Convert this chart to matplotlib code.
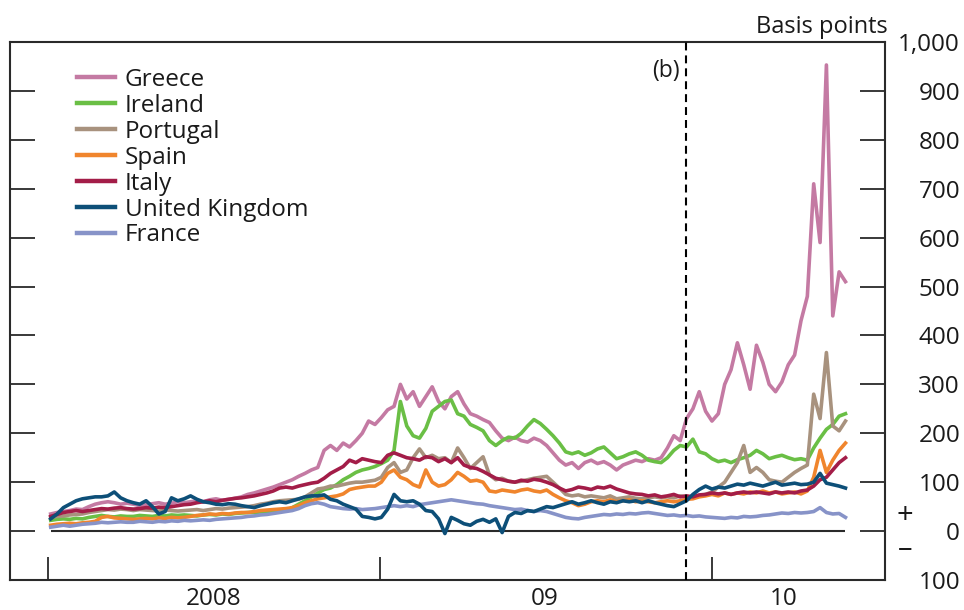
import matplotlib
matplotlib.use("Agg")
import matplotlib.pyplot as plt
import matplotlib.ticker as mticker
import pandas as pd

plt.rcParams['font.family'] = ['Open Sans', 'DejaVu Sans']
plt.rcParams['font.weight'] = 500

# Weekly observations, spreads in basis points
weeks = pd.date_range('2008-01-04', periods=126, freq='7D')

greece = [35, 38, 40, 42, 45, 44,
          50, 55, 58, 60, 58, 55, 57,
          55, 52, 54, 56, 58, 55, 57, 60,
          58, 60, 62, 60, 64, 66, 63, 65, 67, 70,
          75, 78, 82, 86, 90, 95, 100, 105, 112, 118, 125, 130,
          165, 175, 165, 180, 172, 185, 200, 225, 218, 232, 248, 255,
          300, 270, 285, 255, 275, 295, 265, 250, 275, 285, 260, 240,
          235, 228, 222, 205, 190, 185, 192, 185, 182, 190, 185, 175,
          160, 145, 135, 140, 128, 140, 145, 138, 142, 135, 125, 135,
          140, 145, 142, 148, 145, 150, 170, 195, 185, 230, 250, 285,
          245, 225, 240, 300, 330, 385, 340, 290, 380, 345, 300, 285,
          305, 340, 360, 430, 480, 710, 590, 953, 440, 530, 510]

ireland = [22, 24, 25, 24, 26, 25,
           28, 30, 32, 30, 29, 31, 30,
           30, 32, 31, 30, 32, 31, 33, 32,
           33, 32, 31, 33, 34, 33, 35, 34, 36, 37,
           38, 38, 39, 40, 38, 40, 42, 48, 55, 62, 70, 78,
           85, 88, 95, 105, 112, 120, 125, 128, 132, 138, 145, 165,
           265, 215, 195, 190, 210, 245, 255, 265, 268, 240, 235, 218,
           212, 205, 185, 175, 185, 192, 190, 200, 215, 228, 220, 208,
           195, 180, 162, 158, 162, 155, 160, 168, 172, 160, 148, 152,
           158, 162, 155, 145, 142, 140, 150, 165, 175, 172, 188, 162,
           158, 148, 142, 145, 140, 146, 150, 155, 165, 158, 148, 152,
           155, 150, 146, 148, 145, 170, 190, 208, 218, 235, 240]

portugal = [28, 30, 31, 33, 34, 35,
            38, 40, 42, 44, 43, 45, 44,
            42, 44, 43, 42, 41, 43, 42, 41,
            42, 43, 44, 42, 44, 46, 45, 47, 48, 49,
            50, 52, 55, 57, 60, 62, 63, 64, 65, 70, 78, 86,
            88, 92, 92, 95, 98, 100, 100, 102, 104, 110, 130, 140,
            120, 125, 150, 168, 150, 155, 148, 150, 140, 170, 150, 128,
            140, 152, 115, 105, 108, 102, 100, 102, 105, 108, 110, 112,
            100, 88, 75, 72, 74, 70, 72, 70, 68, 72, 66, 68,
            70, 67, 66, 68, 70, 68, 70, 68, 72, 70, 68, 72,
            75, 80, 90, 100, 120, 140, 175, 120, 130, 120, 105, 102,
            100, 110, 120, 128, 135, 280, 230, 365, 215, 205, 225]

spain = [12, 14, 15, 16, 15, 17,
         18, 20, 28, 30, 27, 26, 25,
         24, 25, 26, 25, 27, 26, 28, 27,
         28, 30, 32, 33, 35, 34, 36, 35, 37, 38,
         38, 40, 42, 43, 44, 45, 46, 48, 52, 58, 62, 66,
         68, 70, 72, 76, 85, 88, 90, 92, 92, 100, 118, 125,
         110, 105, 95, 90, 125, 100, 92, 95, 105, 120, 112, 102,
         104, 100, 82, 80, 84, 82, 80, 84, 86, 82, 80, 84,
         75, 68, 62, 58, 52, 55, 60, 62, 60, 64, 60, 62,
         64, 60, 62, 60, 58, 60, 62, 60, 62, 65, 66, 70,
         72, 75, 72, 78, 75, 78, 76, 80, 78, 82, 78, 80,
         76, 78, 80, 76, 82, 110, 165, 120, 145, 165, 180]

italy = [30, 34, 38, 40, 42, 40,
         42, 44, 46, 45, 47, 48, 46,
         45, 46, 48, 47, 49, 48, 50, 52,
         54, 55, 58, 60, 62, 60, 63, 65, 67, 68,
         70, 72, 75, 78, 82, 88, 90, 88, 92, 95, 98, 100,
         108, 118, 125, 132, 145, 140, 148, 145, 142, 140, 155, 160,
         155, 150, 148, 145, 152, 150, 142, 148, 140, 150, 135, 130,
         128, 122, 115, 108, 105, 102, 100, 104, 102, 106, 104, 100,
         95, 88, 82, 85, 90, 88, 85, 90, 88, 92, 86, 82,
         78, 76, 75, 72, 74, 70, 72, 75, 70, 72, 70, 74,
         75, 78, 76, 78, 75, 78, 80, 78, 80, 78, 76, 80,
         78, 80, 78, 82, 84, 92, 105, 110, 125, 140, 150]

united_kingdom = [25, 35, 48, 55, 62, 66,
                  68, 70, 70, 72, 80, 68, 62,
                  58, 55, 62, 50, 35, 40, 68, 62,
                  66, 72, 65, 60, 58, 55, 54, 56, 55, 52,
                  50, 48, 52, 55, 58, 60, 58, 62, 66, 70, 72, 72,
                  74, 65, 62, 55, 50, 45, 30, 28, 25, 28, 45, 75,
                  62, 60, 62, 55, 42, 40, 25, -5, 28, 22, 15, 12,
                  20, 24, 18, 25, -3, 30, 38, 36, 42, 40, 45, 50,
                  48, 52, 56, 60, 55, 58, 62, 58, 55, 60, 58, 62,
                  60, 62, 58, 62, 58, 55, 52, 50, 56, 62, 75, 85,
                  92, 86, 90, 88, 92, 96, 94, 98, 95, 92, 96, 100,
                  94, 96, 98, 95, 96, 100, 118, 98, 95, 92, 88]

france = [8, 10, 12, 10, 12, 14,
          15, 16, 18, 17, 18, 19, 18,
          18, 20, 19, 18, 20, 19, 21, 20,
          22, 21, 22, 23, 22, 24, 25, 26, 27, 28,
          30, 31, 33, 34, 36, 38, 40, 42, 46, 52, 56, 58,
          55, 50, 48, 46, 45, 46, 44, 45, 46, 48, 50, 52,
          50, 52, 50, 54, 56, 58, 60, 62, 64, 62, 60, 58,
          56, 55, 52, 50, 48, 46, 44, 45, 42, 40, 42, 40,
          36, 32, 28, 26, 25, 28, 30, 32, 34, 33, 35, 34,
          36, 35, 37, 38, 36, 34, 32, 33, 31, 32, 30, 31,
          29, 28, 27, 26, 28, 27, 30, 29, 30, 32, 33, 35,
          37, 36, 38, 37, 38, 40, 48, 38, 35, 36, 28]

series_names = ["Greece", "Ireland", "Portugal", "Spain", "Italy",
                "United Kingdom", "France"]
series_values = [greece, ireland, portugal, spain, italy,
                 united_kingdom, france]
series_colors = ["#c47aa3", "#6abf45", "#a8927e", "#f0852d", "#a31d48",
                 "#0d4f78", "#8793c8"]

year_starts = pd.to_datetime(["2008-01-01", "2009-01-01", "2010-01-01"])
year_label_dates = pd.to_datetime(["2008-07-01", "2009-07-01", "2010-03-21"])
year_labels = ["2008", "09", "10"]
marker_date = pd.Timestamp("2009-12-03")
y_ticks = list(range(-100, 1001, 100))

frame_color = "#2a2a2a"
text_color = "#1a1a1a"
fs = 17.5

fig = plt.figure(figsize=(9.64, 6.10), dpi=100)
ax = fig.add_axes([10 / 964, 30 / 610, 875 / 964, 538 / 610])

for name, vals, col in zip(series_names, series_values, series_colors):
    assert len(vals) == len(weeks), name
    z = 4 if name == "United Kingdom" else 3
    ax.plot(weeks, vals, color=col, lw=2.6, label=name, zorder=z,
            solid_joinstyle="round")

# zero line across the observed period
ax.hlines(0, weeks[0], weeks[-1], color=frame_color, lw=1.5, zorder=2)

# event marker
ax.axvline(marker_date, color="black", lw=1.5, ls=(0, (3.8, 2.4)), zorder=5)
ax.text(marker_date - pd.Timedelta(days=6), 940, "(b)", ha="right",
        va="center", fontsize=16.5, color=text_color)

ax.set_ylim(-100, 1000)
ax.set_xlim(pd.Timestamp("2008-01-01") - pd.Timedelta(days=41.8),
            pd.Timestamp("2010-01-01") + pd.Timedelta(days=190.5))

# y axis: ticks on both sides, labels on the right
ax.set_yticks(y_ticks)
ax.yaxis.set_major_formatter(mticker.FuncFormatter(lambda v, p: f"{abs(int(v)):,}"))
ax.tick_params(axis="y", which="major", direction="in", length=18, width=1.3,
               color=frame_color, left=True, right=True, labelleft=False,
               labelright=True, pad=54, labelsize=fs, labelcolor=text_color)
for lbl in ax.get_yticklabels(which="major"):
    lbl.set_horizontalalignment("right")

# x axis: year boundaries as ticks, year labels centred between them
ax.set_xticks(year_starts)
ax.set_xticklabels([])
ax.set_xticks(year_label_dates, minor=True)
ax.set_xticklabels(year_labels, minor=True)
ax.tick_params(axis="x", which="major", direction="in", length=16.5,
               width=1.3, color=frame_color, top=False)
ax.tick_params(axis="x", which="minor", length=0, pad=5, labelsize=fs,
               labelcolor=text_color, top=False)

for sp in ax.spines.values():
    sp.set_color(frame_color)
    sp.set_linewidth(1.5)

leg = ax.legend(loc="upper left", bbox_to_anchor=(0.077, 0.952), frameon=False,
                fontsize=fs, handlelength=1.55, handletextpad=0.4,
                labelspacing=0.08, borderpad=0, borderaxespad=0)
for t in leg.get_texts():
    t.set_color(text_color)
for h in leg.get_lines():
    h.set_linewidth(3.2)

fig.text(888 / 964, 1 - 27 / 610, "Basis points", ha="right", va="center",
         fontsize=17, color=text_color)
fig.text(905 / 964, 1 - 516 / 610, "+", ha="center", va="center",
         fontsize=21, color=text_color)
fig.text(905 / 964, 1 - 550 / 610, "\u2013", ha="center", va="center",
         fontsize=21, color=text_color)

fig.savefig("out.png", dpi=100)
